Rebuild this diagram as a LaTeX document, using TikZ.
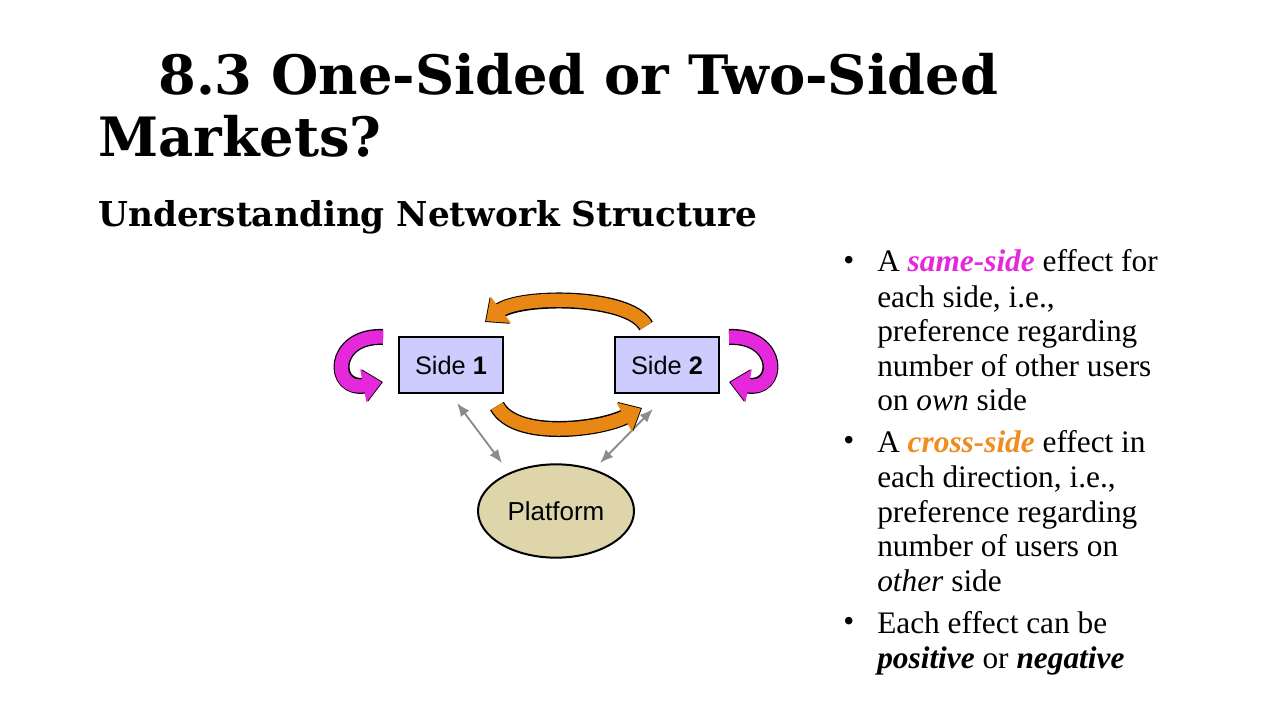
\documentclass[tikz,border=0pt]{standalone}
\usepackage{fontspec}
\setmainfont{Liberation Serif}
\newfontfamily\tfont{DejaVu Serif}
\newfontfamily\afont{Liberation Sans}
\usetikzlibrary{arrows.meta,shapes.geometric}
\definecolor{mag}{RGB}{230,40,220}
\definecolor{org}{RGB}{240,140,30}
\definecolor{oran}{RGB}{232,135,20}
\definecolor{lav}{RGB}{204,204,255}
\definecolor{tan}{RGB}{222,214,170}
\begin{document}
\begin{tikzpicture}[x=0.75pt,y=-0.75pt,
  box/.style={draw=black,line width=1.5pt,fill=lav,minimum width=78pt,minimum height=42pt,font=\afont\fontsize{19}{22}\selectfont,inner sep=0pt},
  line/.style={anchor=base west,font=\fontsize{23.5}{26}\selectfont,inner sep=0pt},
  cur/.style={line width=10pt,-{Triangle[length=14pt,width=24pt]}},
  gar/.style={draw=gray!90,line width=1.4pt,{Latex[length=10pt,width=8pt]}-{Latex[length=10pt,width=8pt]}}]
\useasboundingbox (0,0) rectangle (1280,720);
\fill[white] (0,0) rectangle (1280,720);
\node[anchor=base west,inner sep=0pt,font=\tfont\bfseries\fontsize{40.7}{48}\selectfont] (t1) at (158,95) {8.3 One-Sided or Two-Sided};
\node[anchor=base west,inner sep=0pt,font=\tfont\bfseries\fontsize{40.7}{48}\selectfont] (t2) at (98,157) {Markets?};
\node[anchor=base west,inner sep=0pt,font=\tfont\bfseries\fontsize{25.7}{30}\selectfont] (st) at (98,227) {Understanding Network Structure};
\node[box] (s1) at (451,365) {Side \textbf{1}};
\node[box] (s2) at (667,365) {Side \textbf{2}};
\node[ellipse,draw=black,line width=1.5pt,fill=tan,minimum width=117pt,minimum height=70pt,font=\afont\fontsize{19.5}{22}\selectfont] (pf) at (556,511) {Platform};
\coordinate (g1a) at (457,403); \coordinate (g1b) at (502,463);
\coordinate (g2a) at (653,409); \coordinate (g2b) at (600,463);
\draw[gar] (g1a) -- (g1b);
\draw[gar] (g2a) -- (g2b);
\coordinate (m1a) at (383,337); \coordinate (m1b) at (383,382);
\coordinate (m2a) at (729,337); \coordinate (m2b) at (729,382);
\foreach \a/\b/\d in {m1a/m1b/-1,m2a/m2b/1}{
 \draw[cur,line width=12pt,black] (\a) .. controls +(\d*52,-2) and +(\d*52,10) .. (\b);
 \draw[cur,mag,shorten >=1pt] (\a) .. controls +(\d*52,-2) and +(\d*52,10) .. (\b);
}
\coordinate (o1a) at (646,326); \coordinate (o1b) at (485,322);
\coordinate (o2a) at (497,406); \coordinate (o2b) at (642,408);
\draw[cur,line width=12pt,black] (o1a) .. controls (630,295) and (520,295) .. (o1b);
\draw[cur,oran,shorten >=1pt] (o1a) .. controls (630,295) and (520,295) .. (o1b);
\draw[cur,line width=12pt,black] (o2a) .. controls (515,440) and (600,430) .. (o2b);
\draw[cur,oran,shorten >=1pt] (o2a) .. controls (515,440) and (600,430) .. (o2b);
\foreach \y in {263,443,624} \node[line] at (843,\y+7) {\textbullet};
\node[line] (b1) at (877,272) {A \textcolor{mag}{\textbf{\textit{same-side}}} effect for};
\node[line] at (877,307) {each side, i.e.,};
\node[line] at (877,341) {preference regarding};
\node[line] at (877,376) {number of other users};
\node[line] at (877,410) {on \textit{own} side};
\node[line] (b2) at (877,452) {A \textcolor{org}{\textbf{\textit{cross-side}}} effect in};
\node[line] at (877,487) {each direction, i.e.,};
\node[line] at (877,522) {preference regarding};
\node[line] at (877,556) {number of users on};
\node[line] at (877,591) {\textit{other} side};
\node[line] (b3) at (877,633) {Each effect can be};
\node[line] at (877,668) {\textbf{\textit{positive}} or \textbf{\textit{negative}}};
\end{tikzpicture}
\end{document}
